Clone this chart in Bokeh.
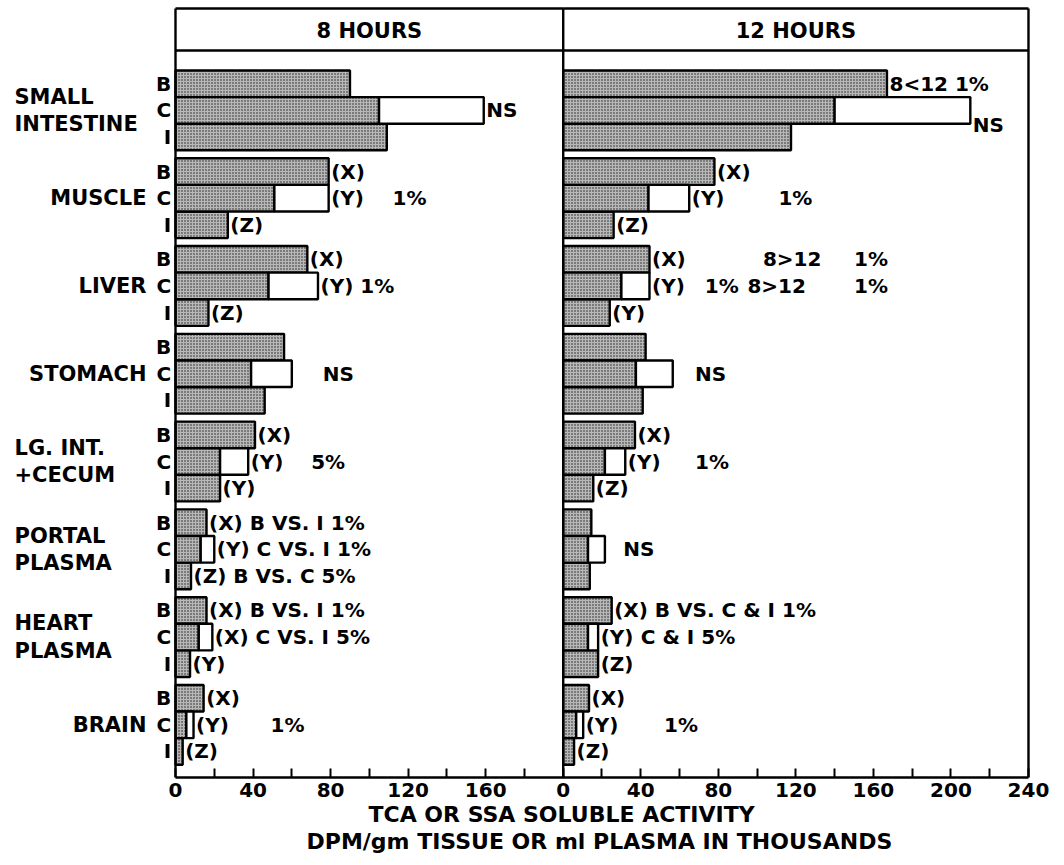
from bokeh.plotting import figure
from bokeh.models import Range1d, FixedTicker, Title
from bokeh.core.properties import value
from bokeh.embed import file_html
from bokeh.resources import INLINE

# ---------------- data ----------------
tissues = ["SMALL\nINTESTINE", "MUSCLE", "LIVER", "STOMACH",
           "LG. INT.\n+CECUM", "PORTAL\nPLASMA", "HEART\nPLASMA", "BRAIN"]
rows = ["B", "C", "I"]
panels = ["8 HOURS", "12 HOURS"]
axis_title = ["TCA OR SSA SOLUBLE ACTIVITY", "DPM/gm TISSUE OR ml PLASMA IN THOUSANDS"]

# 8 hours (thousands DPM)
h8_B = [90, 79, 68, 56, 41, 16, 16, 14.5]
h8_C = [105, 51, 48, 39, 23, 13, 12, 5.6]          # stippled part of C
h8_C_total = [159, 79, 73.5, 60, 37.5, 20, 19, 9.3]  # end of white extension
h8_I = [109, 27, 17, 46, 23, 8, 7.5, 3.7]

# 12 hours
h12_B = [167, 78, 44.5, 42.5, 37, 14.5, 25, 13.3]
h12_C = [140, 44, 30, 37.5, 21.5, 12.8, 12.8, 6.7]
h12_C_total = [210, 65, 44.5, 56.5, 32, 21.5, 18, 10.3]
h12_I = [117.5, 26, 24, 41, 15.5, 13.7, 18, 5.6]

# annotations (group, row, text, x start or None = right after bar)
ann8_group = [0, 1, 1, 1, 1, 2, 2, 2, 3, 4, 4, 4, 4, 5, 5, 5, 6, 6, 6, 7, 7, 7, 7]
ann8_row = [1, 0, 1, 1, 2, 0, 1, 2, 1, 0, 1, 1, 2, 0, 1, 2, 0, 1, 2, 0, 1, 1, 2]
ann8_text = ["NS", "(X)", "(Y)", "1%", "(Z)", "(X)", "(Y) 1%", "(Z)", "NS",
             "(X)", "(Y)", "5%", "(Y)",
             "(X) B VS. I 1%", "(Y) C VS. I 1%", "(Z) B VS. C 5%",
             "(X) B VS. I 1%", "(X) C VS. I 5%", "(Y)",
             "(X)", "(Y)", "1%", "(Z)"]
ann8_x = [None, None, None, 112, None, None, None, None, 76,
          None, None, 70, None, None, None, None, None, None, None,
          None, None, 49, None]
ann8_dy = [0] * len(ann8_text)

ann12_group = [0, 0, 1, 1, 1, 1, 2, 2, 2, 2, 2, 2, 2, 2, 3, 4, 4, 4, 4, 5, 6, 6, 6, 6, 7, 7, 7, 7]
ann12_row = [0, 1, 0, 1, 1, 2, 0, 0, 0, 1, 1, 1, 1, 2, 1, 0, 1, 1, 2, 1, 0, 1, 1, 2, 0, 1, 1, 2]
ann12_text = ["8<12 1%", "NS", "(X)", "(Y)", "1%", "(Z)",
              "(X)", "8>12", "1%", "(Y)", "1%", "8>12", "1%", "(Y)",
              "NS", "(X)", "(Y)", "1%", "(Z)", "NS",
              "(X) B VS. C & I 1%", "(Y)", "C & I 5%", "(Z)",
              "(X)", "(Y)", "1%", "(Z)"]
ann12_x = [None, None, None, None, 111, None,
           None, 103, 150, None, 73, 95, 150, None,
           68, None, None, 68, None, 31,
           None, None, 40, None,
           None, None, 52, None]
ann12_dy = [0, 0.55] + [0] * (len(ann12_text) - 2)

# ---------------- layout constants ----------------
W, H = 1064, 865
S = 1.9386            # px per thousand
X0_PX = 175           # px of zero of the 8 h panel
FRAME_BOTTOM_PX = 777
FIRST_BAR_PX = 70
BAR_PX = 26.6
PITCH = 3.3           # group pitch in bar units
P1_MAX, P2_MAX = 200, 240
HDR_TOP = (8 - FIRST_BAR_PX) / BAR_PX
HDR_BOT = (50 - FIRST_BAR_PX) / BAR_PX
HDR_TXT = (30 - FIRST_BAR_PX) / BAR_PX

FONT = value("DejaVu Sans")
STIP = dict(fill_color="#b8b8b8", hatch_pattern="dot", hatch_color="#1e1e1e",
            hatch_scale=3.0, hatch_weight=1.3, line_color="black", line_width=2.4)

x_start = -X0_PX / S
x_end = (W - X0_PX) / S
y_top = -FIRST_BAR_PX / BAR_PX
y_bot = (FRAME_BOTTOM_PX - FIRST_BAR_PX) / BAR_PX

p = figure(width=W, height=H, x_range=Range1d(x_start, x_end),
           y_range=Range1d(y_bot, y_top), output_backend="svg",
           toolbar_location=None, y_axis_location=None,
           min_border_left=0, min_border_right=0, min_border_top=0,
           min_border_bottom=88)
p.extra_x_ranges = {"p2": Range1d(x_start - P1_MAX, x_end - P1_MAX)}
p.outline_line_color = None
p.xgrid.visible = False
p.ygrid.visible = False
p.background_fill_color = "white"
p.border_fill_color = "white"

n = len(tissues)
yB = [g * PITCH + 0.5 for g in range(n)]
yC = [g * PITCH + 1.5 for g in range(n)]
yI = [g * PITCH + 2.5 for g in range(n)]
row_y = [yB, yC, yI]


def draw_panel(B, C, Ct, I, rn, groups, rws, texts, xs, dys):
    p.hbar(y=yB, left=0, right=B, height=1, x_range_name=rn, **STIP)
    p.hbar(y=yI, left=0, right=I, height=1, x_range_name=rn, **STIP)
    p.hbar(y=yC, left=0, right=C, height=1, x_range_name=rn, **STIP)
    p.hbar(y=yC, left=C, right=Ct, height=1, x_range_name=rn,
           fill_color="white", line_color="black", line_width=2.4)
    ends = [B, Ct, I]
    tx, ty = [], []
    for g, r, x, dy in zip(groups, rws, xs, dys):
        tx.append(ends[r][g] + 1.3 if x is None else x)
        ty.append(row_y[r][g] + dy)
    p.text(x=tx, y=ty, text=texts, x_range_name=rn, text_font=FONT,
           text_font_style="bold", text_font_size="20px",
           text_baseline="middle", text_align="left", text_color="black")


draw_panel(h8_B, h8_C, h8_C_total, h8_I, "default",
           ann8_group, ann8_row, ann8_text, ann8_x, ann8_dy)
draw_panel(h12_B, h12_C, h12_C_total, h12_I, "p2",
           ann12_group, ann12_row, ann12_text, ann12_x, ann12_dy)

# panel frames and header boxes
p.segment(x0=[0, 0], y0=[HDR_TOP, HDR_BOT], x1=[P1_MAX, P1_MAX],
          y1=[HDR_TOP, HDR_BOT], line_color="black", line_width=2.4)
p.segment(x0=[0, 0], y0=[HDR_TOP, HDR_BOT], x1=[P2_MAX, P2_MAX],
          y1=[HDR_TOP, HDR_BOT], line_color="black", line_width=2.4,
          x_range_name="p2")
p.segment(x0=[0, P1_MAX], y0=[HDR_TOP, HDR_TOP], x1=[0, P1_MAX],
          y1=[y_bot, y_bot], line_color="black", line_width=2.4)
p.segment(x0=[P2_MAX], y0=[HDR_TOP], x1=[P2_MAX], y1=[y_bot],
          line_color="black", line_width=2.4, x_range_name="p2")

# panel headers
p.text(x=[P1_MAX / 2], y=[HDR_TXT], text=[panels[0]], text_font=FONT,
       text_font_style="bold", text_font_size="21px", text_align="center",
       text_baseline="middle")
p.text(x=[P2_MAX / 2], y=[HDR_TXT], text=[panels[1]], text_font=FONT,
       text_font_style="bold", text_font_size="21px", text_align="center",
       text_baseline="middle", x_range_name="p2")

# row letters
letters, ly = [], []
for g in range(n):
    for r in range(3):
        letters.append(rows[r])
        ly.append(row_y[r][g])
p.text(x=[-2.2] * len(letters), y=ly, text=letters, text_font=FONT,
       text_font_style="bold", text_font_size="20px", text_align="right",
       text_baseline="middle")

# tissue labels
multi = [i for i, t in enumerate(tissues) if "\n" in t]
single = [i for i, t in enumerate(tissues) if "\n" not in t]
p.text(x=[(14 - X0_PX) / S] * len(multi), y=[yC[i] for i in multi],
       text=[tissues[i] for i in multi], text_font=FONT,
       text_font_style="bold", text_font_size="21px", text_align="left",
       text_baseline="middle", text_line_height=1.15)
p.text(x=[(146 - X0_PX) / S] * len(single), y=[yC[i] for i in single],
       text=[tissues[i] for i in single], text_font=FONT,
       text_font_style="bold", text_font_size="21px", text_align="right",
       text_baseline="middle")

# x axis: ticks of both panels on one axis line
major = [t for t in range(0, P1_MAX, 40)] + [P1_MAX + t for t in range(0, P2_MAX + 1, 40)]
minor = [t for t in range(20, P1_MAX, 40)] + [P1_MAX + t for t in range(20, P2_MAX, 40)]
ax = p.xaxis[0]
ax.ticker = FixedTicker(ticks=major, minor_ticks=minor)
ax.major_label_overrides = {P1_MAX + t: str(t) for t in range(0, P2_MAX + 1, 40)}
ax.bounds = (0, P1_MAX + P2_MAX)
ax.axis_line_width = 2.4
ax.axis_line_color = "black"
ax.major_tick_in = 9
ax.major_tick_out = 0
ax.minor_tick_in = 9
ax.minor_tick_out = 0
ax.major_tick_line_width = 2
ax.minor_tick_line_width = 2
ax.major_tick_line_color = "black"
ax.minor_tick_line_color = "black"
ax.major_label_text_font = "DejaVu Sans"
ax.major_label_text_font_style = "bold"
ax.major_label_text_font_size = "20px"
ax.major_label_text_color = "black"
ax.major_label_standoff = 5

# two-line axis title, each line placed under the chart as in the original
for txt, left_px in zip(axis_title, [368, 306]):
    t = Title(text=txt, align="left", text_font="DejaVu Sans",
              text_font_style="bold", text_font_size="22px", standoff=0,
              offset=left_px, text_color="black")
    p.add_layout(t, "below")

open("out.html", "w").write(file_html(p, INLINE))
